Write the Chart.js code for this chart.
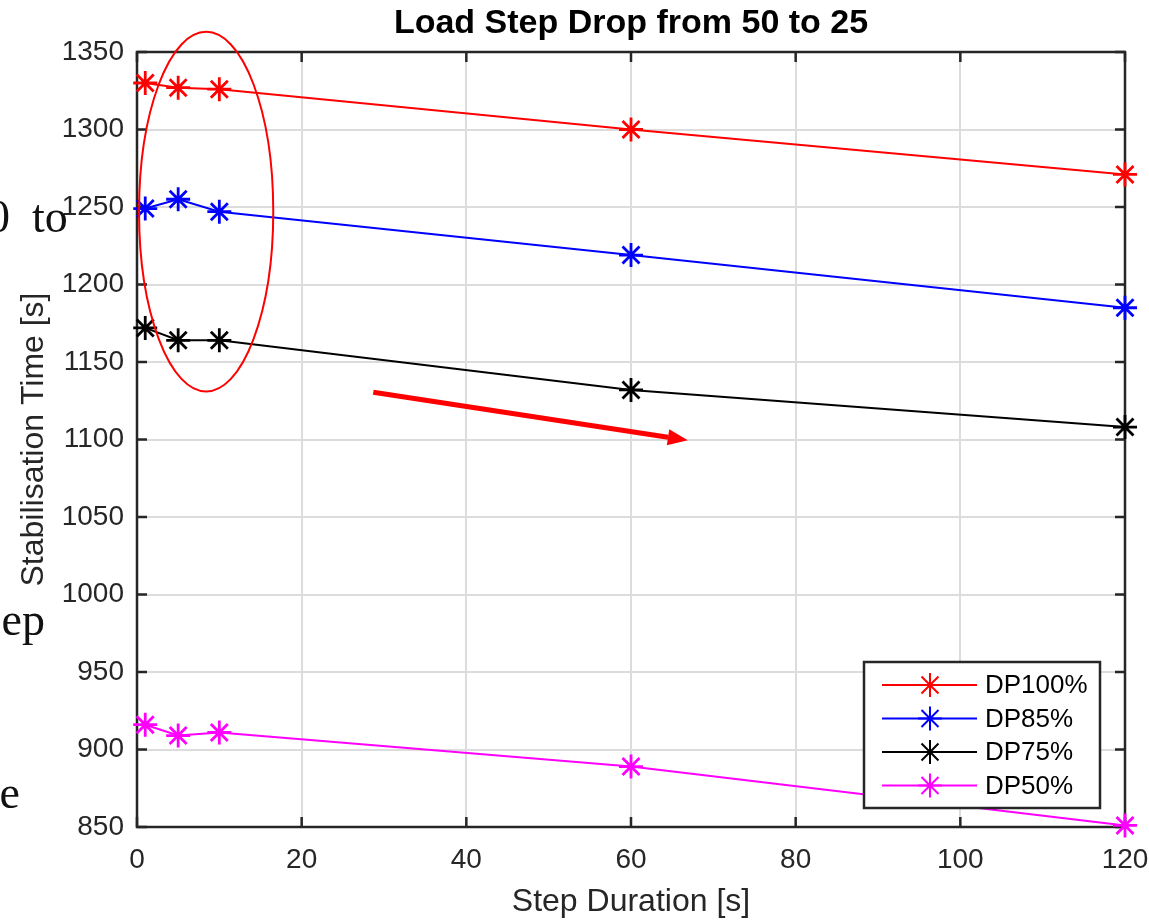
<!DOCTYPE html>
<html>
<head>
<meta charset="utf-8">
<script src="https://cdn.jsdelivr.net/npm/chart.js@4/dist/chart.umd.min.js"></script>
<style>
  html, body { margin: 0; padding: 0; background: #ffffff; }
  #wrap { position: relative; width: 1149px; height: 921px; }
</style>
</head>
<body>
<div id="wrap"><canvas id="c"></canvas></div>
<script>
// ---- data ----
const stepDurations = [1, 5, 10, 60, 120];
const dp100 = [1330, 1327, 1326, 1300, 1271];
const dp85  = [1249, 1255, 1247, 1219, 1185];
const dp75  = [1172, 1164, 1164, 1132, 1108];
const dp50  = [916, 909, 911, 889, 851];
const seriesLabels = ['DP100%', 'DP85%', 'DP75%', 'DP50%'];
const seriesColors = ['#ff0000', '#0000ff', '#000000', '#ff00ff'];
const xTicks = [0, 20, 40, 60, 80, 100, 120];
const yTicks = [850, 900, 950, 1000, 1050, 1100, 1150, 1200, 1250, 1300, 1350];
const titleText = 'Load Step Drop from 50 to 25';
const xTitle = 'Step Duration [s]';
const yTitle = 'Stabilisation Time [s]';
// annotation (in data units): ellipse around short durations and trend arrow
const ellipseCenter = [8.4, 1247];
const ellipseRadii = [8.15, 116];
const arrowFrom = [28.7, 1130.5];
const arrowTo = [66.9, 1099.5];

const seriesValues = [dp100, dp85, dp75, dp50];
const datasets = seriesValues.map((vals, i) => ({
  label: seriesLabels[i],
  data: stepDurations.map((x, j) => ({ x: x, y: vals[j] })),
  borderColor: seriesColors[i],
  backgroundColor: seriesColors[i],
  borderWidth: 2,
  pointStyle: 'star',
  pointRadius: 12,
  pointBorderWidth: 2.8,
  pointHoverRadius: 12,
  tension: 0,
  clip: false
}));

const axisColor = '#262626';
const tickFont = { family: '"Liberation Sans", Arial, sans-serif', size: 28 };

const boxPlugin = {
  id: 'matlabBox',
  beforeDatasetsDraw(chart) {
    const { ctx, chartArea: a, scales } = chart;
    ctx.save();
    ctx.strokeStyle = axisColor;
    ctx.lineWidth = 2.5;
    ctx.strokeRect(a.left, a.top, a.right - a.left, a.bottom - a.top);
    const tl = 10;
    ctx.beginPath();
    xTicks.forEach(v => {
      const px = scales.x.getPixelForValue(v);
      ctx.moveTo(px, a.bottom); ctx.lineTo(px, a.bottom - tl);
      ctx.moveTo(px, a.top); ctx.lineTo(px, a.top + tl);
    });
    yTicks.forEach(v => {
      const py = scales.y.getPixelForValue(v);
      ctx.moveTo(a.left, py); ctx.lineTo(a.left + tl, py);
      ctx.moveTo(a.right, py); ctx.lineTo(a.right - tl, py);
    });
    ctx.stroke();
    ctx.restore();
  },
  afterDraw(chart) {
    const { ctx, chartArea: a, scales } = chart;
    const sx = scales.x, sy = scales.y;
    ctx.save();
    // title
    ctx.fillStyle = '#000000';
    ctx.font = 'bold 34px "Liberation Sans", Arial, sans-serif';
    ctx.textAlign = 'center';
    ctx.textBaseline = 'middle';
    ctx.fillText(titleText, (a.left + a.right) / 2, 24);

    // ellipse annotation
    const cx = sx.getPixelForValue(ellipseCenter[0]);
    const cy = sy.getPixelForValue(ellipseCenter[1]);
    const rx = sx.getPixelForValue(ellipseCenter[0] + ellipseRadii[0]) - cx;
    const ry = cy - sy.getPixelForValue(ellipseCenter[1] + ellipseRadii[1]);
    ctx.strokeStyle = '#ff0000';
    ctx.lineWidth = 2;
    ctx.beginPath();
    ctx.ellipse(cx, cy, rx, ry, 0, 0, Math.PI * 2);
    ctx.stroke();

    // arrow annotation
    const x1 = sx.getPixelForValue(arrowFrom[0]), y1 = sy.getPixelForValue(arrowFrom[1]);
    const x2 = sx.getPixelForValue(arrowTo[0]), y2 = sy.getPixelForValue(arrowTo[1]);
    const ang = Math.atan2(y2 - y1, x2 - x1);
    const headLen = 20, headW = 8;
    const bx = x2 - headLen * Math.cos(ang), by = y2 - headLen * Math.sin(ang);
    ctx.strokeStyle = '#ff0000';
    ctx.lineWidth = 5;
    ctx.beginPath();
    ctx.moveTo(x1, y1); ctx.lineTo(bx, by);
    ctx.stroke();
    ctx.fillStyle = '#ff0000';
    ctx.beginPath();
    ctx.moveTo(x2, y2);
    ctx.lineTo(bx + headW * Math.sin(ang), by - headW * Math.cos(ang));
    ctx.lineTo(bx - headW * Math.sin(ang), by + headW * Math.cos(ang));
    ctx.closePath();
    ctx.fill();

    // legend
    const lx = 864, ly = 662, lw = 236, lh = 146;
    ctx.fillStyle = '#ffffff';
    ctx.fillRect(lx, ly, lw, lh);
    ctx.strokeStyle = axisColor;
    ctx.lineWidth = 2.5;
    ctx.strokeRect(lx, ly, lw, lh);
    ctx.font = '26px "Liberation Sans", Arial, sans-serif';
    ctx.textAlign = 'left';
    ctx.textBaseline = 'middle';
    chart.data.datasets.forEach((ds, i) => {
      const yy = ly + 23 + i * 33.5;
      ctx.strokeStyle = ds.borderColor;
      ctx.lineWidth = 2;
      ctx.beginPath();
      ctx.moveTo(lx + 18, yy); ctx.lineTo(lx + 113, yy);
      ctx.stroke();
      ctx.fillStyle = ds.borderColor;
      Chart.helpers.drawPoint(ctx, { pointStyle: 'star', radius: 12, borderWidth: 2.8 }, lx + 66, yy);
      ctx.fillStyle = '#000000';
      ctx.fillText(ds.label, lx + 121, yy + 1);
    });

    // clipped document text on the left edge
    ctx.fillStyle = '#111111';
    ctx.font = '46px "Liberation Serif", "DejaVu Serif", serif';
    ctx.textBaseline = 'alphabetic';
    ctx.textAlign = 'right';
    ctx.fillText('0', 10, 232);
    ctx.textAlign = 'left';
    ctx.fillText('to', 32, 232);
    ctx.textAlign = 'right';
    ctx.fillText('ep', 45, 635);
    ctx.fillText('e', 20, 808);
    ctx.restore();
  }
};

new Chart(document.getElementById('c'), {
  type: 'line',
  data: { datasets: datasets },
  plugins: [boxPlugin],
  options: {
    responsive: true,
    maintainAspectRatio: false,
    animation: false,
    layout: { padding: { top: 52, right: 24, left: 0, bottom: 0 } },
    plugins: { legend: { display: false }, title: { display: false }, tooltip: { enabled: false } },
    scales: {
      x: {
        type: 'linear',
        min: 0, max: 120,
        afterBuildTicks(s) { s.ticks = xTicks.map(v => ({ value: v })); },
        afterFit(s) { s.height = 94; s.paddingLeft = 0; s.paddingRight = 0; },
        grid: { color: '#dcdcdc', lineWidth: 2, drawTicks: false },
        border: { display: false },
        ticks: { color: axisColor, font: tickFont, padding: 16, maxRotation: 0, autoSkip: false,
                 callback: v => String(v) },
        title: { display: true, text: xTitle, color: axisColor,
                 font: { family: '"Liberation Sans", Arial, sans-serif', size: 32 }, padding: { top: 0, bottom: 0 } }
      },
      y: {
        type: 'linear',
        min: 850, max: 1350,
        afterBuildTicks(s) { s.ticks = yTicks.map(v => ({ value: v })); },
        afterFit(s) { s.width = 137; s.paddingTop = 0; s.paddingBottom = 0; },
        grid: { color: '#dcdcdc', lineWidth: 2, drawTicks: false },
        border: { display: false },
        ticks: { color: axisColor, font: tickFont, padding: 13, autoSkip: false,
                 callback: v => String(v) },
        title: { display: true, text: yTitle, color: axisColor,
                 font: { family: '"Liberation Sans", Arial, sans-serif', size: 32 }, padding: { top: 15, bottom: 0 } }
      }
    }
  }
});
</script>
</body>
</html>
